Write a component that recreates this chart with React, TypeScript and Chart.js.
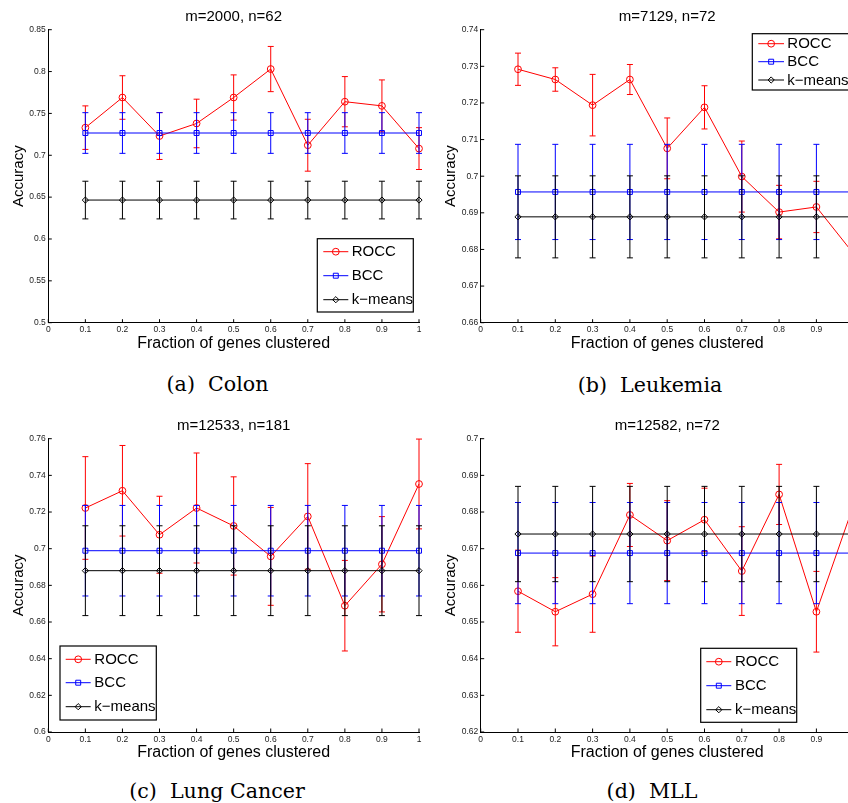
import React, { useEffect, useRef } from 'react';
import { Chart, registerables } from 'chart.js';
Chart.register(...registerables);

// ---------- data ----------
const fractions = [0.1, 0.2, 0.3, 0.4, 0.5, 0.6, 0.7, 0.8, 0.9, 1.0];
const seriesNames = ['ROCC', 'BCC', 'k\u2212means'];
const xLabel = 'Fraction of genes clustered';
const yLabel = 'Accuracy';

// (a) Colon
const colonTitle = 'm=2000, n=62';
const colonYRange = [0.5, 0.85, 0.05];
const colonRocc = [0.733, 0.769, 0.723, 0.738, 0.769, 0.803, 0.712, 0.764, 0.759, 0.708];
const colonRoccErr = [0.026, 0.026, 0.028, 0.029, 0.027, 0.027, 0.031, 0.030, 0.031, 0.025];
const colonBcc = [0.7266, 0.7266, 0.7266, 0.7266, 0.7266, 0.7266, 0.7266, 0.7266, 0.7266, 0.7266];
const colonBccErr = [0.0243, 0.0243, 0.0243, 0.0243, 0.0243, 0.0243, 0.0243, 0.0243, 0.0243, 0.0243];
const colonKm = [0.6465, 0.6465, 0.6465, 0.6465, 0.6465, 0.6465, 0.6465, 0.6465, 0.6465, 0.6465];
const colonKmErr = [0.0225, 0.0225, 0.0225, 0.0225, 0.0225, 0.0225, 0.0225, 0.0225, 0.0225, 0.0225];

// (b) Leukemia
const leukTitle = 'm=7129, n=72';
const leukYRange = [0.66, 0.74, 0.01];
const leukRocc = [0.7292, 0.7264, 0.7194, 0.7264, 0.7076, 0.7188, 0.6999, 0.6902, 0.6916, 0.6788];
const leukRoccErr = [0.0044, 0.0032, 0.0084, 0.0041, 0.0083, 0.0059, 0.0097, 0.0073, 0.0070, 0.0080];
const leukBcc = [0.6957, 0.6957, 0.6957, 0.6957, 0.6957, 0.6957, 0.6957, 0.6957, 0.6957, 0.6957];
const leukBccErr = [0.013, 0.013, 0.013, 0.013, 0.013, 0.013, 0.013, 0.013, 0.013, 0.013];
const leukKm = [0.6889, 0.6889, 0.6889, 0.6889, 0.6889, 0.6889, 0.6889, 0.6889, 0.6889, 0.6889];
const leukKmErr = [0.0112, 0.0112, 0.0112, 0.0112, 0.0112, 0.0112, 0.0112, 0.0112, 0.0112, 0.0112];

// (c) Lung Cancer
const lungTitle = 'm=12533, n=181';
const lungYRange = [0.6, 0.76, 0.02];
const lungRocc = [0.7222, 0.7316, 0.7076, 0.7222, 0.7124, 0.6958, 0.7176, 0.6689, 0.6915, 0.7353];
const lungRoccErr = [0.028, 0.0247, 0.021, 0.030, 0.0268, 0.0267, 0.0288, 0.0247, 0.026, 0.0245];
const lungBcc = [0.6989, 0.6989, 0.6989, 0.6989, 0.6989, 0.6989, 0.6989, 0.6989, 0.6989, 0.6989];
const lungBccErr = [0.0247, 0.0247, 0.0247, 0.0247, 0.0247, 0.0247, 0.0247, 0.0247, 0.0247, 0.0247];
const lungKm = [0.688, 0.688, 0.688, 0.688, 0.688, 0.688, 0.688, 0.688, 0.688, 0.688];
const lungKmErr = [0.0245, 0.0245, 0.0245, 0.0245, 0.0245, 0.0245, 0.0245, 0.0245, 0.0245, 0.0245];

// (d) MLL
const mllTitle = 'm=12582, n=72';
const mllYRange = [0.62, 0.70, 0.01];
const mllRocc = [0.6584, 0.6528, 0.6576, 0.6792, 0.6722, 0.6779, 0.6639, 0.6848, 0.6528, 0.682];
const mllRoccErr = [0.0112, 0.0093, 0.0104, 0.0086, 0.0109, 0.0086, 0.0121, 0.0082, 0.011, 0.010];
const mllBcc = [0.6688, 0.6688, 0.6688, 0.6688, 0.6688, 0.6688, 0.6688, 0.6688, 0.6688, 0.6688];
const mllBccErr = [0.0138, 0.0138, 0.0138, 0.0138, 0.0138, 0.0138, 0.0138, 0.0138, 0.0138, 0.0138];
const mllKm = [0.674, 0.674, 0.674, 0.674, 0.674, 0.674, 0.674, 0.674, 0.674, 0.674];
const mllKmErr = [0.013, 0.013, 0.013, 0.013, 0.013, 0.013, 0.013, 0.013, 0.013, 0.013];

const captions = ['(a)\u00a0\u00a0Colon', '(b)\u00a0\u00a0Leukemia', '(c)\u00a0\u00a0Lung Cancer', '(d)\u00a0\u00a0MLL'];

// ---------- styles ----------
const SANS = "'Liberation Sans', Arial, Helvetica, sans-serif";
const SERIF = "'DejaVu Serif', serif";
const COLORS = ['rgb(255,0,0)', 'rgb(0,0,255)', 'rgb(0,0,0)'];
const STYLES = ['circle', 'rect', 'rectRot'];
const RADII = [3.4, 3.5, 3.1];

function drawMarker(ctx: CanvasRenderingContext2D, style: string, x: number, y: number, r: number) {
  ctx.beginPath();
  if (style === 'circle') {
    ctx.arc(x, y, r, 0, Math.PI * 2);
  } else if (style === 'rect') {
    const s = r * Math.SQRT1_2;
    ctx.rect(x - s, y - s, 2 * s, 2 * s);
  } else {
    ctx.moveTo(x - r, y);
    ctx.lineTo(x, y - r);
    ctx.lineTo(x + r, y);
    ctx.lineTo(x, y + r);
    ctx.closePath();
  }
  ctx.stroke();
}

const errorBarPlugin = {
  id: 'errorBars',
  afterDatasetDraw(chart: any, args: any) {
    const ds: any = chart.data.datasets[args.index];
    const errs: number[] = ds.errors;
    if (!errs) return;
    const xs = chart.scales.x;
    const ys = chart.scales.y;
    const ctx: CanvasRenderingContext2D = chart.ctx;
    ctx.save();
    ctx.strokeStyle = ds.borderColor;
    ctx.lineWidth = 1;
    ctx.beginPath();
    ds.data.forEach((p: any, i: number) => {
      const x = xs.getPixelForValue(p.x);
      const yt = ys.getPixelForValue(p.y + errs[i]);
      const yb = ys.getPixelForValue(p.y - errs[i]);
      ctx.moveTo(x, yt);
      ctx.lineTo(x, yb);
      ctx.moveTo(x - 3, yt);
      ctx.lineTo(x + 3, yt);
      ctx.moveTo(x - 3, yb);
      ctx.lineTo(x + 3, yb);
    });
    ctx.stroke();
    ctx.restore();
  },
};

const inwardTicksPlugin = {
  id: 'inwardTicks',
  afterDraw(chart: any) {
    const { ctx, chartArea } = chart;
    const xs = chart.scales.x;
    const ys = chart.scales.y;
    ctx.save();
    ctx.strokeStyle = '#000';
    ctx.lineWidth = 1;
    ctx.beginPath();
    xs.ticks.forEach((t: any) => {
      const px = xs.getPixelForValue(t.value);
      ctx.moveTo(px, chartArea.bottom);
      ctx.lineTo(px, chartArea.bottom - 3.5);
    });
    ys.ticks.forEach((t: any) => {
      const py = ys.getPixelForValue(t.value);
      ctx.moveTo(chartArea.left, py);
      ctx.lineTo(chartArea.left + 3.5, py);
    });
    ctx.stroke();
    ctx.restore();
  },
};

const boxLegendPlugin = {
  id: 'boxLegend',
  afterDraw(chart: any, _args: any, opts: any) {
    if (!opts || !opts.box) return;
    const ctx: CanvasRenderingContext2D = chart.ctx;
    const [x0, y0, x1, y1] = opts.box;
    ctx.save();
    ctx.fillStyle = '#fff';
    ctx.fillRect(x0, y0, x1 - x0, y1 - y0);
    ctx.strokeStyle = '#000';
    ctx.lineWidth = 1.2;
    ctx.strokeRect(x0, y0, x1 - x0, y1 - y0);
    ctx.lineWidth = 1;
    chart.data.datasets.forEach((ds: any, i: number) => {
      const yr = opts.rows[i];
      ctx.strokeStyle = ds.borderColor;
      ctx.beginPath();
      ctx.moveTo(opts.lineX[0], yr);
      ctx.lineTo(opts.lineX[1], yr);
      ctx.stroke();
      drawMarker(ctx, ds.pointStyle, (opts.lineX[0] + opts.lineX[1]) / 2, yr, ds.pointRadius);
      ctx.fillStyle = '#000';
      ctx.font = `15px ${SANS}`;
      ctx.textBaseline = 'middle';
      ctx.textAlign = 'left';
      ctx.fillText(ds.label, opts.textX, yr + 0.5);
    });
    ctx.restore();
  },
};

const fmt = (v: any) => String(Math.round(Number(v) * 1000) / 1000);

type PanelSpec = {
  title: string;
  yRange: number[];
  series: number[][];
  errors: number[][];
  left: number;
  top: number;
  width: number;
  height: number;
  padRight: number;
  padBottom: number;
  yWidth: number;
  yTitlePad: number;
  legend: any;
};

const panels: PanelSpec[] = [
  {
    title: colonTitle, yRange: colonYRange,
    series: [colonRocc, colonBcc, colonKm], errors: [colonRoccErr, colonBccErr, colonKmErr],
    left: 0, top: 0, width: 424, height: 360, padRight: 3.3, padBottom: 7.3, yWidth: 48.3, yTitlePad: 10,
    legend: { box: [317.3, 238.7, 413.3, 312], rows: [251.7, 275.7, 299.7], lineX: [323.3, 348.3], textX: 351.7 },
  },
  {
    title: leukTitle, yRange: leukYRange,
    series: [leukRocc, leukBcc, leukKm], errors: [leukRoccErr, leukBccErr, leukKmErr],
    left: 424, top: 0, width: 440, height: 360, padRight: 10.3, padBottom: 7.3, yWidth: 56.7, yTitlePad: 18,
    legend: { box: [328.3, 33.7, 428, 90], rows: [43.7, 61.7, 80], lineX: [334.3, 360], textX: 363.3 },
  },
  {
    title: lungTitle, yRange: lungYRange,
    series: [lungRocc, lungBcc, lungKm], errors: [lungRoccErr, lungBccErr, lungKmErr],
    left: 0, top: 409, width: 424, height: 360, padRight: 3.3, padBottom: 7, yWidth: 48.3, yTitlePad: 10,
    legend: { box: [60, 237, 156.3, 311], rows: [250.3, 273.7, 297.7], lineX: [65.7, 90.7], textX: 94.3 },
  },
  {
    title: mllTitle, yRange: mllYRange,
    series: [mllRocc, mllBcc, mllKm], errors: [mllRoccErr, mllBccErr, mllKmErr],
    left: 424, top: 409, width: 440, height: 360, padRight: 10.3, padBottom: 7, yWidth: 56.7, yTitlePad: 18,
    legend: { box: [276.7, 239.3, 372.7, 313.3], rows: [252.7, 276.7, 300.7], lineX: [282.3, 307.3], textX: 311 },
  },
];

const captionPos = [
  [217.5, 383.5],
  [650, 384.5],
  [217, 790.5],
  [652, 790.5],
];

function buildConfig(p: PanelSpec): any {
  const datasets = p.series.map((vals, si) => ({
    label: seriesNames[si],
    data: fractions.map((x, i) => ({ x, y: vals[i] })),
    errors: p.errors[si],
    borderColor: COLORS[si],
    backgroundColor: 'rgba(0,0,0,0)',
    pointStyle: STYLES[si],
    pointRadius: RADII[si],
    pointBorderWidth: 1,
    pointBackgroundColor: 'rgba(0,0,0,0)',
    pointBorderColor: COLORS[si],
    borderWidth: 1,
    tension: 0,
    fill: false,
    clip: false,
    order: 3 - si,
  }));
  return {
    type: 'line',
    data: { datasets },
    options: {
      responsive: false,
      maintainAspectRatio: false,
      animation: false,
      events: [],
      layout: { padding: { left: 0, top: 0, right: p.padRight, bottom: p.padBottom } },
      plugins: {
        legend: { display: false },
        tooltip: { enabled: false },
        title: {
          display: true,
          text: p.title,
          fullSize: false,
          color: '#000',
          font: { family: SANS, size: 15, weight: 'normal', lineHeight: 1.2 },
          padding: { top: 8, bottom: 3.7 },
        },
        boxLegend: p.legend,
      },
      scales: {
        x: {
          type: 'linear',
          min: 0,
          max: 1,
          afterFit: (s: any) => { s.height = 30; },
          grid: { display: false, drawTicks: false },
          border: { display: true, color: '#000', width: 1 },
          ticks: {
            stepSize: 0.1,
            padding: 2.2,
            color: '#222',
            autoSkip: false,
            maxRotation: 0,
            font: { family: SANS, size: 8.5 },
            callback: fmt,
          },
          title: {
            display: true,
            text: xLabel,
            color: '#000',
            font: { family: SANS, size: 16, weight: 'normal', lineHeight: 1.2 },
            padding: { top: 0, bottom: 0 },
          },
        },
        y: {
          type: 'linear',
          min: p.yRange[0],
          max: p.yRange[1],
          afterFit: (s: any) => { s.width = p.yWidth; },
          grid: { display: false, drawTicks: false },
          border: { display: true, color: '#000', width: 1 },
          ticks: {
            stepSize: p.yRange[2],
            padding: 2.5,
            color: '#222',
            autoSkip: false,
            font: { family: SANS, size: 8.5 },
            callback: fmt,
          },
          title: {
            display: true,
            text: yLabel,
            color: '#000',
            font: { family: SANS, size: 15, weight: 'normal', lineHeight: 1.2 },
            padding: { top: p.yTitlePad, bottom: 0 },
          },
        },
      },
    },
    plugins: [errorBarPlugin, inwardTicksPlugin, boxLegendPlugin],
  };
}

function Panel({ p }: { p: PanelSpec }) {
  const ref = useRef<HTMLCanvasElement | null>(null);
  useEffect(() => {
    if (!ref.current) return;
    const chart = new Chart(ref.current, buildConfig(p));
    return () => chart.destroy();
  }, [p]);
  return (
    <canvas
      ref={ref}
      width={p.width}
      height={p.height}
      style={{ position: 'absolute', left: p.left, top: p.top, width: p.width, height: p.height }}
    />
  );
}

export default function App() {
  return (
    <div
      style={{
        position: 'absolute',
        left: 0,
        top: 0,
        width: 848,
        height: 803,
        overflow: 'hidden',
        background: '#fff',
      }}
    >
      {panels.map((p, i) => (
        <Panel key={i} p={p} />
      ))}
      {captions.map((c, i) => (
        <div
          key={'c' + i}
          style={{
            position: 'absolute',
            left: captionPos[i][0],
            top: captionPos[i][1],
            transform: 'translate(-50%, -50%)',
            fontFamily: SERIF,
            fontSize: 20.6,
            lineHeight: '26px',
            whiteSpace: 'nowrap',
            color: '#000',
          }}
        >
          {c}
        </div>
      ))}
    </div>
  );
}
